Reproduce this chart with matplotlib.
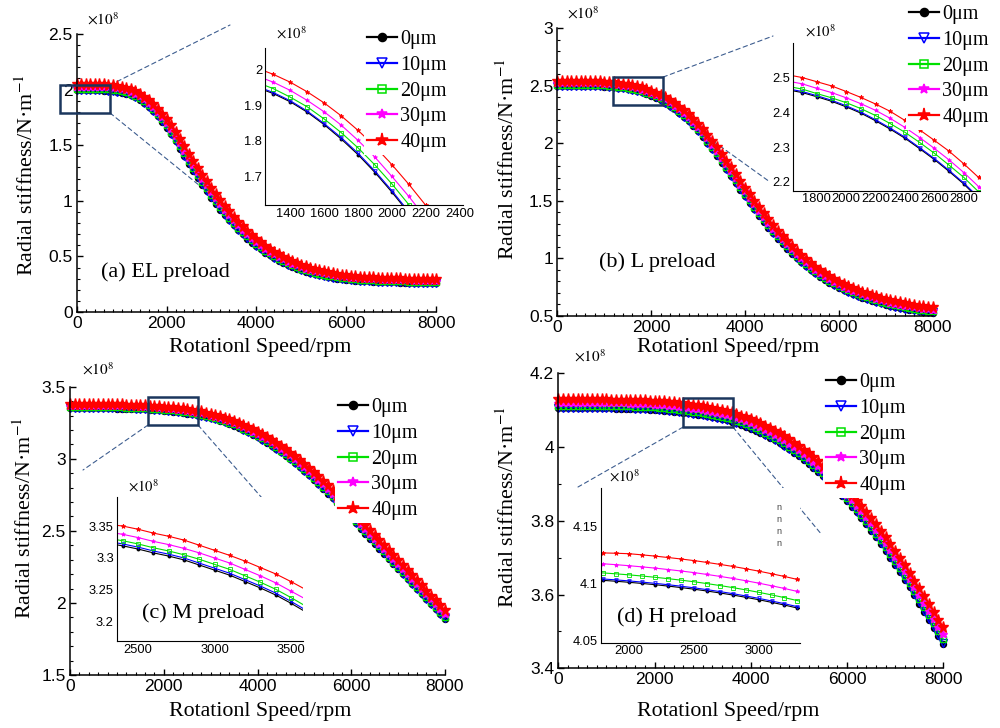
import numpy as np
import matplotlib
matplotlib.use('Agg')
import matplotlib.pyplot as plt
from matplotlib.patches import Rectangle, ConnectionPatch
from matplotlib.lines import Line2D
from matplotlib.ticker import MultipleLocator, FormatStrFormatter

plt.rcParams['font.family'] = 'Liberation Sans'
plt.rcParams['mathtext.fontset'] = 'stix'
SERIF = 'Liberation Serif'

# rotational speed grid (rpm) and clearance cases
speed = np.arange(0, 8001, 100)
clearance = ['0μm', '10μm', '20μm', '30μm', '40μm']

# ---- radial stiffness, x1e8 N/m ----
# (a) EL preload
EL_0 = [1.995, 1.995, 1.995, 1.995, 1.994, 1.993, 1.991, 1.988, 1.984, 1.978, 1.971,
        1.962, 1.950, 1.932, 1.909, 1.880, 1.845, 1.805, 1.761, 1.711, 1.656,
        1.597, 1.534, 1.468, 1.400, 1.333, 1.268, 1.205, 1.144, 1.085, 1.028,
        0.973, 0.921, 0.871, 0.824, 0.779, 0.737, 0.697, 0.660, 0.625, 0.593,
        0.563, 0.535, 0.509, 0.485, 0.463, 0.443, 0.424, 0.407, 0.391, 0.377,
        0.364, 0.352, 0.341, 0.331, 0.322, 0.314, 0.307, 0.301, 0.296, 0.291,
        0.287, 0.283, 0.280, 0.277, 0.275, 0.273, 0.271, 0.269, 0.268, 0.267,
        0.266, 0.265, 0.264, 0.263, 0.262, 0.262, 0.261, 0.261, 0.260, 0.260]
EL_10 = [1.998, 1.998, 1.998, 1.998, 1.997, 1.996, 1.994, 1.991, 1.987, 1.981, 1.974,
         1.965, 1.953, 1.935, 1.912, 1.883, 1.848, 1.809, 1.765, 1.715, 1.660,
         1.601, 1.539, 1.473, 1.405, 1.338, 1.273, 1.210, 1.149, 1.090, 1.033,
         0.978, 0.926, 0.876, 0.829, 0.784, 0.741, 0.701, 0.664, 0.629, 0.597,
         0.567, 0.539, 0.512, 0.488, 0.466, 0.446, 0.427, 0.410, 0.394, 0.379,
         0.366, 0.354, 0.343, 0.333, 0.324, 0.316, 0.309, 0.303, 0.298, 0.293,
         0.289, 0.285, 0.282, 0.279, 0.277, 0.275, 0.273, 0.271, 0.270, 0.269,
         0.268, 0.267, 0.266, 0.265, 0.264, 0.264, 0.263, 0.263, 0.262, 0.262]
EL_20 = [2.009, 2.009, 2.009, 2.009, 2.008, 2.007, 2.005, 2.002, 1.998, 1.992, 1.985,
         1.976, 1.964, 1.946, 1.922, 1.895, 1.861, 1.823, 1.780, 1.732, 1.679,
         1.621, 1.559, 1.494, 1.427, 1.361, 1.296, 1.233, 1.172, 1.112, 1.055,
         0.999, 0.946, 0.896, 0.848, 0.802, 0.759, 0.719, 0.681, 0.645, 0.613,
         0.582, 0.553, 0.527, 0.502, 0.480, 0.459, 0.440, 0.422, 0.406, 0.391,
         0.378, 0.366, 0.354, 0.344, 0.335, 0.327, 0.320, 0.314, 0.308, 0.303,
         0.299, 0.295, 0.292, 0.289, 0.287, 0.285, 0.283, 0.281, 0.280, 0.279,
         0.278, 0.276, 0.275, 0.274, 0.273, 0.273, 0.272, 0.272, 0.271, 0.271]
EL_30 = [2.027, 2.027, 2.027, 2.027, 2.026, 2.025, 2.023, 2.020, 2.016, 2.010, 2.003,
         1.994, 1.982, 1.964, 1.941, 1.913, 1.881, 1.844, 1.801, 1.754, 1.700,
         1.644, 1.583, 1.519, 1.452, 1.386, 1.322, 1.259, 1.197, 1.138, 1.080,
         1.023, 0.970, 0.919, 0.870, 0.824, 0.780, 0.739, 0.701, 0.664, 0.631,
         0.600, 0.570, 0.543, 0.518, 0.495, 0.474, 0.454, 0.436, 0.419, 0.405,
         0.391, 0.379, 0.367, 0.357, 0.347, 0.338, 0.331, 0.325, 0.320, 0.315,
         0.310, 0.306, 0.303, 0.300, 0.297, 0.295, 0.293, 0.291, 0.290, 0.289,
         0.288, 0.287, 0.286, 0.285, 0.283, 0.283, 0.282, 0.282, 0.281, 0.281]
EL_40 = [2.050, 2.050, 2.050, 2.050, 2.049, 2.048, 2.046, 2.043, 2.039, 2.033, 2.026,
         2.017, 2.004, 1.986, 1.964, 1.937, 1.906, 1.870, 1.829, 1.784, 1.733,
         1.678, 1.619, 1.556, 1.490, 1.425, 1.361, 1.298, 1.236, 1.176, 1.117,
         1.060, 1.006, 0.953, 0.904, 0.856, 0.812, 0.769, 0.730, 0.692, 0.658,
         0.626, 0.596, 0.568, 0.542, 0.518, 0.496, 0.476, 0.457, 0.440, 0.425,
         0.411, 0.398, 0.386, 0.375, 0.365, 0.356, 0.348, 0.342, 0.336, 0.331,
         0.326, 0.322, 0.319, 0.315, 0.313, 0.311, 0.309, 0.306, 0.305, 0.304,
         0.303, 0.302, 0.301, 0.299, 0.298, 0.298, 0.297, 0.297, 0.296, 0.296]

# (b) L preload
L_0 = [2.497, 2.497, 2.497, 2.497, 2.497, 2.497, 2.497, 2.497, 2.497, 2.496, 2.494,
       2.491, 2.487, 2.482, 2.477, 2.471, 2.464, 2.456, 2.444, 2.431, 2.415,
       2.397, 2.375, 2.351, 2.325, 2.295, 2.264, 2.230, 2.194, 2.152, 2.106,
       2.056, 2.003, 1.948, 1.891, 1.833, 1.774, 1.715, 1.656, 1.597, 1.539,
       1.482, 1.426, 1.372, 1.319, 1.268, 1.219, 1.172, 1.127, 1.084, 1.043,
       1.004, 0.967, 0.932, 0.900, 0.870, 0.842, 0.816, 0.791, 0.767, 0.745,
       0.726, 0.708, 0.691, 0.675, 0.660, 0.646, 0.633, 0.621, 0.609, 0.598,
       0.588, 0.579, 0.570, 0.562, 0.555, 0.548, 0.542, 0.537, 0.532, 0.528]
L_10 = [2.500, 2.500, 2.500, 2.500, 2.500, 2.500, 2.500, 2.500, 2.500, 2.499, 2.497,
        2.494, 2.490, 2.485, 2.480, 2.474, 2.467, 2.459, 2.447, 2.434, 2.418,
        2.400, 2.378, 2.354, 2.328, 2.298, 2.267, 2.233, 2.197, 2.156, 2.110,
        2.060, 2.007, 1.952, 1.895, 1.837, 1.778, 1.719, 1.660, 1.601, 1.543,
        1.486, 1.430, 1.376, 1.323, 1.272, 1.223, 1.176, 1.131, 1.088, 1.047,
        1.008, 0.971, 0.936, 0.904, 0.873, 0.845, 0.819, 0.794, 0.770, 0.748,
        0.729, 0.711, 0.694, 0.678, 0.663, 0.649, 0.636, 0.624, 0.612, 0.601,
        0.591, 0.582, 0.573, 0.565, 0.558, 0.551, 0.545, 0.540, 0.535, 0.531]
L_20 = [2.507, 2.507, 2.507, 2.507, 2.507, 2.507, 2.507, 2.507, 2.507, 2.506, 2.504,
        2.501, 2.497, 2.492, 2.487, 2.481, 2.474, 2.466, 2.453, 2.441, 2.427,
        2.410, 2.390, 2.367, 2.342, 2.313, 2.282, 2.248, 2.213, 2.172, 2.127,
        2.078, 2.025, 1.970, 1.914, 1.856, 1.797, 1.739, 1.680, 1.621, 1.563,
        1.506, 1.450, 1.395, 1.342, 1.290, 1.241, 1.193, 1.148, 1.104, 1.063,
        1.024, 0.986, 0.950, 0.918, 0.888, 0.859, 0.833, 0.808, 0.784, 0.761,
        0.742, 0.724, 0.707, 0.691, 0.676, 0.661, 0.648, 0.636, 0.624, 0.613,
        0.603, 0.594, 0.585, 0.577, 0.569, 0.562, 0.556, 0.551, 0.546, 0.542]
L_30 = [2.522, 2.522, 2.522, 2.522, 2.522, 2.522, 2.522, 2.522, 2.522, 2.521, 2.519,
        2.516, 2.512, 2.507, 2.502, 2.496, 2.489, 2.481, 2.468, 2.456, 2.441,
        2.424, 2.405, 2.382, 2.356, 2.327, 2.296, 2.263, 2.227, 2.187, 2.143,
        2.095, 2.044, 1.990, 1.934, 1.877, 1.819, 1.760, 1.701, 1.642, 1.584,
        1.527, 1.470, 1.416, 1.362, 1.310, 1.260, 1.213, 1.167, 1.123, 1.081,
        1.041, 1.003, 0.967, 0.934, 0.903, 0.875, 0.848, 0.823, 0.798, 0.776,
        0.756, 0.738, 0.721, 0.705, 0.690, 0.675, 0.662, 0.650, 0.638, 0.627,
        0.616, 0.607, 0.598, 0.590, 0.583, 0.575, 0.569, 0.564, 0.559, 0.555]
L_40 = [2.540, 2.540, 2.540, 2.540, 2.540, 2.540, 2.540, 2.540, 2.540, 2.539, 2.537,
        2.534, 2.530, 2.525, 2.520, 2.514, 2.507, 2.499, 2.487, 2.475, 2.459,
        2.442, 2.423, 2.402, 2.376, 2.349, 2.319, 2.288, 2.252, 2.213, 2.170,
        2.123, 2.073, 2.020, 1.965, 1.909, 1.851, 1.793, 1.734, 1.675, 1.616,
        1.559, 1.502, 1.447, 1.393, 1.341, 1.290, 1.242, 1.195, 1.151, 1.108,
        1.068, 1.029, 0.993, 0.960, 0.928, 0.899, 0.872, 0.846, 0.821, 0.798,
        0.778, 0.760, 0.742, 0.726, 0.711, 0.696, 0.683, 0.671, 0.658, 0.647,
        0.637, 0.628, 0.618, 0.610, 0.603, 0.596, 0.589, 0.584, 0.579, 0.575]

# (c) M preload
M_0 = [3.350, 3.350, 3.350, 3.350, 3.350, 3.350, 3.349, 3.349, 3.349, 3.349, 3.348,
       3.348, 3.347, 3.346, 3.345, 3.344, 3.342, 3.340, 3.338, 3.336, 3.333,
       3.330, 3.327, 3.323, 3.319, 3.314, 3.308, 3.303, 3.297, 3.289, 3.281,
       3.273, 3.263, 3.253, 3.242, 3.229, 3.215, 3.200, 3.184, 3.167, 3.149,
       3.130, 3.110, 3.089, 3.067, 3.044, 3.020, 2.995, 2.969, 2.942, 2.914,
       2.885, 2.855, 2.824, 2.792, 2.759, 2.725, 2.691, 2.656, 2.621, 2.586,
       2.551, 2.516, 2.481, 2.446, 2.411, 2.376, 2.341, 2.306, 2.271, 2.236,
       2.201, 2.166, 2.131, 2.096, 2.061, 2.026, 1.991, 1.957, 1.923, 1.889]
M_10 = [3.353, 3.353, 3.353, 3.353, 3.353, 3.353, 3.352, 3.352, 3.352, 3.352, 3.351,
        3.351, 3.350, 3.349, 3.348, 3.347, 3.345, 3.343, 3.341, 3.339, 3.336,
        3.333, 3.330, 3.326, 3.322, 3.317, 3.311, 3.306, 3.300, 3.292, 3.284,
        3.276, 3.266, 3.256, 3.245, 3.232, 3.218, 3.203, 3.187, 3.170, 3.152,
        3.133, 3.113, 3.092, 3.070, 3.047, 3.023, 2.998, 2.972, 2.945, 2.917,
        2.888, 2.858, 2.827, 2.795, 2.762, 2.728, 2.694, 2.659, 2.624, 2.589,
        2.554, 2.519, 2.484, 2.449, 2.414, 2.379, 2.344, 2.309, 2.274, 2.239,
        2.204, 2.169, 2.134, 2.099, 2.064, 2.029, 1.994, 1.960, 1.926, 1.892]
M_20 = [3.358, 3.358, 3.358, 3.358, 3.358, 3.358, 3.357, 3.357, 3.357, 3.357, 3.356,
        3.356, 3.355, 3.354, 3.353, 3.352, 3.350, 3.348, 3.346, 3.344, 3.341,
        3.338, 3.335, 3.331, 3.327, 3.322, 3.316, 3.311, 3.305, 3.298, 3.290,
        3.282, 3.272, 3.262, 3.251, 3.238, 3.224, 3.210, 3.194, 3.177, 3.160,
        3.141, 3.121, 3.101, 3.079, 3.056, 3.033, 3.008, 2.982, 2.956, 2.928,
        2.899, 2.870, 2.839, 2.807, 2.774, 2.741, 2.707, 2.672, 2.637, 2.602,
        2.567, 2.532, 2.497, 2.462, 2.427, 2.392, 2.357, 2.322, 2.287, 2.252,
        2.217, 2.182, 2.147, 2.112, 2.077, 2.042, 2.007, 1.973, 1.939, 1.905]
M_30 = [3.368, 3.368, 3.368, 3.368, 3.368, 3.368, 3.367, 3.367, 3.367, 3.367, 3.366,
        3.366, 3.365, 3.364, 3.363, 3.362, 3.360, 3.358, 3.356, 3.354, 3.351,
        3.348, 3.345, 3.341, 3.337, 3.332, 3.326, 3.321, 3.315, 3.308, 3.300,
        3.292, 3.282, 3.272, 3.261, 3.248, 3.235, 3.221, 3.205, 3.189, 3.172,
        3.154, 3.134, 3.114, 3.093, 3.070, 3.047, 3.023, 2.997, 2.971, 2.944,
        2.915, 2.886, 2.855, 2.824, 2.791, 2.758, 2.724, 2.689, 2.654, 2.619,
        2.584, 2.550, 2.515, 2.480, 2.445, 2.410, 2.375, 2.340, 2.305, 2.270,
        2.235, 2.200, 2.165, 2.130, 2.095, 2.060, 2.025, 1.991, 1.957, 1.923]
M_40 = [3.379, 3.379, 3.379, 3.379, 3.379, 3.379, 3.378, 3.378, 3.378, 3.378, 3.377,
        3.377, 3.376, 3.375, 3.374, 3.373, 3.371, 3.369, 3.367, 3.365, 3.362,
        3.360, 3.357, 3.353, 3.350, 3.345, 3.339, 3.334, 3.328, 3.320, 3.312,
        3.304, 3.295, 3.285, 3.275, 3.263, 3.250, 3.236, 3.221, 3.206, 3.189,
        3.171, 3.152, 3.133, 3.112, 3.090, 3.067, 3.043, 3.019, 2.993, 2.966,
        2.938, 2.909, 2.878, 2.847, 2.815, 2.781, 2.748, 2.713, 2.679, 2.644,
        2.609, 2.574, 2.539, 2.505, 2.470, 2.435, 2.400, 2.365, 2.330, 2.295,
        2.260, 2.225, 2.191, 2.156, 2.121, 2.086, 2.051, 2.017, 1.983, 1.949]

# (d) H preload
H_0 = [4.1060, 4.1060, 4.1060, 4.1060, 4.1059, 4.1058, 4.1057, 4.1056, 4.1054, 4.1052, 4.1050,
       4.1048, 4.1045, 4.1042, 4.1039, 4.1036, 4.1032, 4.1029, 4.1025, 4.1017, 4.1008,
       4.0998, 4.0987, 4.0975, 4.0962, 4.0948, 4.0932, 4.0915, 4.0897, 4.0877, 4.0856,
       4.0833, 4.0809, 4.0783, 4.0755, 4.0723, 4.0687, 4.0647, 4.0603, 4.0555, 4.0503,
       4.0447, 4.0387, 4.0323, 4.0255, 4.0183, 4.0107, 4.0027, 3.9942, 3.9852, 3.9757,
       3.9657, 3.9552, 3.9442, 3.9327, 3.9207, 3.9082, 3.8952, 3.8817, 3.8677, 3.8532,
       3.8382, 3.8227, 3.8067, 3.7902, 3.7732, 3.7557, 3.7377, 3.7192, 3.7002, 3.6807,
       3.6607, 3.6402, 3.6192, 3.5977, 3.5757, 3.5537, 3.5317, 3.5097, 3.4877, 3.4657]
H_10 = [4.1072, 4.1072, 4.1072, 4.1072, 4.1071, 4.1070, 4.1069, 4.1068, 4.1066, 4.1064, 4.1062,
        4.1060, 4.1057, 4.1054, 4.1051, 4.1048, 4.1044, 4.1041, 4.1037, 4.1029, 4.1020,
        4.1010, 4.0999, 4.0987, 4.0974, 4.0960, 4.0944, 4.0927, 4.0909, 4.0889, 4.0868,
        4.0845, 4.0821, 4.0795, 4.0767, 4.0735, 4.0699, 4.0659, 4.0615, 4.0567, 4.0515,
        4.0460, 4.0400, 4.0336, 4.0269, 4.0197, 4.0122, 4.0042, 3.9958, 3.9868, 3.9774,
        3.9675, 3.9570, 3.9461, 3.9346, 3.9227, 3.9103, 3.8973, 3.8839, 3.8699, 3.8555,
        3.8405, 3.8251, 3.8091, 3.7927, 3.7757, 3.7583, 3.7403, 3.7219, 3.7029, 3.6835,
        3.6635, 3.6430, 3.6221, 3.6006, 3.5786, 3.5567, 3.5347, 3.5127, 3.4907, 3.4687]
H_20 = [4.1125, 4.1125, 4.1125, 4.1125, 4.1124, 4.1123, 4.1122, 4.1121, 4.1119, 4.1117, 4.1115,
        4.1113, 4.1110, 4.1107, 4.1104, 4.1101, 4.1097, 4.1094, 4.1090, 4.1082, 4.1073,
        4.1063, 4.1052, 4.1040, 4.1027, 4.1013, 4.0997, 4.0980, 4.0962, 4.0942, 4.0921,
        4.0898, 4.0874, 4.0848, 4.0820, 4.0788, 4.0752, 4.0713, 4.0669, 4.0622, 4.0570,
        4.0515, 4.0455, 4.0392, 4.0324, 4.0253, 4.0178, 4.0098, 4.0014, 3.9925, 3.9831,
        3.9732, 3.9628, 3.9519, 3.9406, 3.9287, 3.9163, 3.9035, 3.8901, 3.8763, 3.8619,
        3.8471, 3.8317, 3.8159, 3.7995, 3.7827, 3.7654, 3.7476, 3.7293, 3.7105, 3.6912,
        3.6714, 3.6512, 3.6304, 3.6092, 3.5874, 3.5657, 3.5439, 3.5222, 3.5004, 3.4787]
H_30 = [4.1205, 4.1205, 4.1205, 4.1205, 4.1204, 4.1203, 4.1202, 4.1201, 4.1199, 4.1197, 4.1195,
        4.1193, 4.1190, 4.1187, 4.1184, 4.1181, 4.1177, 4.1174, 4.1170, 4.1162, 4.1153,
        4.1143, 4.1132, 4.1120, 4.1107, 4.1093, 4.1077, 4.1060, 4.1042, 4.1022, 4.1001,
        4.0978, 4.0954, 4.0928, 4.0900, 4.0868, 4.0832, 4.0793, 4.0749, 4.0702, 4.0650,
        4.0595, 4.0535, 4.0472, 4.0404, 4.0333, 4.0258, 4.0179, 4.0095, 4.0007, 3.9913,
        3.9815, 3.9712, 3.9604, 3.9492, 3.9374, 3.9252, 3.9124, 3.8992, 3.8854, 3.8712,
        3.8565, 3.8414, 3.8257, 3.8096, 3.7929, 3.7758, 3.7581, 3.7400, 3.7213, 3.7022,
        3.6827, 3.6626, 3.6421, 3.6210, 3.5995, 3.5780, 3.5564, 3.5349, 3.5133, 3.4918]
H_40 = [4.1300, 4.1300, 4.1300, 4.1300, 4.1299, 4.1298, 4.1297, 4.1296, 4.1294, 4.1292, 4.1290,
        4.1288, 4.1285, 4.1282, 4.1279, 4.1276, 4.1272, 4.1269, 4.1265, 4.1262, 4.1258,
        4.1248, 4.1237, 4.1225, 4.1212, 4.1198, 4.1182, 4.1165, 4.1147, 4.1127, 4.1106,
        4.1083, 4.1059, 4.1033, 4.1005, 4.0973, 4.0937, 4.0897, 4.0853, 4.0805, 4.0753,
        4.0699, 4.0641, 4.0579, 4.0513, 4.0443, 4.0369, 4.0291, 4.0208, 4.0120, 4.0027,
        3.9931, 3.9830, 3.9724, 3.9613, 3.9497, 3.9376, 3.9250, 3.9119, 3.8983, 3.8842,
        3.8698, 3.8549, 3.8395, 3.8236, 3.8072, 3.7903, 3.7729, 3.7550, 3.7366, 3.7177,
        3.6985, 3.6788, 3.6586, 3.6379, 3.6167, 3.5955, 3.5743, 3.5531, 3.5319, 3.5107]

# line styles per clearance
colors = ['black', 'blue', '#00e000', 'magenta', 'red']
markers = ['o', 'v', 's', '*', '*']
faces = ['black', 'none', 'none', 'magenta', 'red']
main_ms = [4.3, 5.2, 4.4, 6.2, 8.2]
inset_ms = [2.2, 2.6, 2.2, 3.0, 3.4]
legend_ms = [5.8, 6.6, 5.6, 7.2, 9.5]

W, H = 1000.0, 728.0
fig = plt.figure(figsize=(10, 7.28), dpi=100)


def fbox(left, top, right, bottom):
    # pixel box -> figure fraction rect
    return [left / W, 1 - bottom / H, (right - left) / W, (bottom - top) / H]


def fpt(px, py):
    return (px / W, 1 - py / H)


panels = [
    dict(curves=[EL_0, EL_10, EL_20, EL_30, EL_40], name='(a) EL preload',
         box=(76.7, 34, 436, 312), ylim=(0, 2.5), ymaj=0.5, ymin=0.1,
         ylab=(-0.139, 0.493), xlab=(0.51, -0.126), tag=(165, 272), exp=(103, 19),
         inset=(265, 48, 463, 205), ixlim=(1250, 2420), iylim=(1.62, 2.06),
         ixmaj=200, iymaj=0.1, iexp=(291, 33),
         rect=(-372, 1.79, 742, 2.041),
         links=[((742, 2.041), (230, 25)), ((742, 1.79), (205, 190))],
         leg=(364, 27)),
    dict(curves=[L_0, L_10, L_20, L_30, L_40], name='(b) L preload',
         box=(557.3, 28.3, 932.7, 316), ylim=(0.5, 3.0), ymaj=0.5, ymin=0.1,
         ylab=(-0.131, 0.546), xlab=(0.455, -0.111), tag=(657, 262), exp=(583, 13),
         inset=(793.3, 43.3, 980, 190.7), ixlim=(1640, 2910), iylim=(2.175, 2.597),
         ixmaj=200, iymaj=0.1, iexp=(820, 31),
         rect=(1187, 2.333, 2253, 2.576),
         links=[((2253, 2.576), (773, 36)), ((2253, 2.333), (770, 182))],
         leg=(906, 2)),
    dict(curves=[M_0, M_10, M_20, M_30, M_40], name='(c) M preload',
         box=(70, 386.7, 445, 675), ylim=(1.5, 3.5), ymaj=0.5, ymin=0.1,
         ylab=(-0.12, 0.545), xlab=(0.507, -0.128), tag=(203, 613), exp=(98, 369),
         inset=(116.7, 496.7, 303.3, 641), ixlim=(2360, 3580), iylim=(3.17, 3.396),
         ixmaj=500, iymaj=0.05, iexp=(143, 486),
         rect=(1664, 3.234, 2731, 3.428),
         links=[((1664, 3.234), (83, 470)), ((2731, 3.234), (262, 498))],
         leg=(335, 395)),
    dict(curves=[H_0, H_10, H_20, H_30, H_40], name='(d) H preload',
         box=(558.3, 373.3, 943.3, 668.3), ylim=(3.4, 4.2), ymaj=0.2, ymin=0.1,
         ylab=(-0.131, 0.547), xlab=(0.441, -0.148), tag=(677, 617), exp=(590, 356),
         inset=(600.7, 488.3, 800, 642.7), ixlim=(1780, 3320), iylim=(4.048, 4.183),
         ixmaj=500, iymaj=0.05, iexp=(624, 476),
         rect=(2591, 4.054, 3630, 4.133),
         links=[((2591, 4.054), (578, 487)), ((3630, 4.054), (822, 535))],
         leg=(823, 370)),
]

legend_handles = [Line2D([], [], color=c, lw=1.6, marker=m, ms=ms, mfc=f, mec=c, mew=1.1)
                  for c, m, f, ms in zip(colors, markers, faces, legend_ms)]

for p in panels:
    # main axes
    ax = fig.add_axes(fbox(*p['box']))
    ax.patch.set_alpha(0)
    for vals, c, m, f, ms in zip(p['curves'], colors, markers, faces, main_ms):
        ax.plot(speed, vals, color=c, lw=1.0, marker=m, ms=ms, mfc=f, mec=c,
                mew=1.0, clip_on=False)
    ax.set_xlim(0, 8000)
    ax.set_ylim(*p['ylim'])
    for s in ['top', 'right']:
        ax.spines[s].set_visible(False)
    for s in ['left', 'bottom']:
        ax.spines[s].set_linewidth(1.1)
    ax.xaxis.set_major_locator(MultipleLocator(2000))
    ax.xaxis.set_minor_locator(MultipleLocator(200))
    ax.yaxis.set_major_locator(MultipleLocator(p['ymaj']))
    ax.yaxis.set_minor_locator(MultipleLocator(p['ymin']))
    ax.yaxis.set_major_formatter(FormatStrFormatter('%g'))
    ax.tick_params(which='both', direction='in', labelsize=12.5, pad=3)
    ax.tick_params(which='major', length=4, width=1)
    ax.tick_params(which='minor', length=2.2, width=0.8)

    ax.set_xlabel('Rotationl Speed/rpm', family=SERIF, fontsize=15.8)
    ax.set_ylabel('Radial stiffness/N·m$^{-1}$', family=SERIF, fontsize=15.8)
    ax.xaxis.set_label_coords(*p['xlab'])
    ax.yaxis.set_label_coords(*p['ylab'])
    ax.xaxis.label.set_va('center')
    ax.yaxis.label.set_va('center')

    # zoom window and guide lines
    x0, y0, x1, y1 = p['rect']
    ax.add_patch(Rectangle((x0, y0), x1 - x0, y1 - y0, fill=False, ec='#1b365d',
                           lw=1.8, clip_on=False, zorder=6))
    for xyA, pxB in p['links']:
        con = ConnectionPatch(xyA=xyA, coordsA=ax.transData, xyB=fpt(*pxB),
                              coordsB=fig.transFigure, color='#3d5d8f', lw=0.8,
                              ls=(0, (4, 3)), zorder=1)
        ax.add_artist(con)
        con.set_clip_on(False)

    fig.text(*fpt(*p['exp']), r'$\times10^{8}$', fontsize=11, ha='center', va='center')
    fig.text(*fpt(*p['tag']), p['name'], family=SERIF, fontsize=16, ha='center',
             va='center', zorder=8)

    # inset
    ins = fig.add_axes(fbox(*p['inset']))
    for vals, c, m, f, ms in zip(p['curves'], colors, markers, faces, inset_ms):
        ins.plot(speed, vals, color=c, lw=0.8, marker=m, ms=ms, mfc=f, mec=c, mew=0.6)
    ins.set_xlim(*p['ixlim'])
    ins.set_ylim(*p['iylim'])
    for s in ['top', 'right']:
        ins.spines[s].set_visible(False)
    for s in ['left', 'bottom']:
        ins.spines[s].set_linewidth(0.8)
    ins.xaxis.set_major_locator(MultipleLocator(p['ixmaj']))
    ins.yaxis.set_major_locator(MultipleLocator(p['iymaj']))
    ins.yaxis.set_major_formatter(FormatStrFormatter('%g'))
    ins.tick_params(length=0, labelsize=9.3, pad=2)
    fig.text(*fpt(*p['iexp']), r'$\times10^{8}$', fontsize=10.5, ha='center', va='center')

    # legend on a white box, drawn over everything in the panel
    fig.legend(legend_handles, clearance, loc='upper left',
               bbox_to_anchor=fpt(*p['leg']), bbox_transform=fig.transFigure,
               frameon=True, fancybox=False, framealpha=1, facecolor='white',
               edgecolor='none', borderpad=0.15, borderaxespad=0, handlelength=1.5,
               handletextpad=0.15, labelspacing=0.33,
               prop={'family': SERIF, 'size': 14.5})

# stray glyphs inside the (d) inset
for py in [507, 519, 531, 543]:
    fig.text(*fpt(779, py), 'n', fontsize=6.5, color='#444444', ha='center', va='center')

fig.savefig('out.png', dpi=100)
